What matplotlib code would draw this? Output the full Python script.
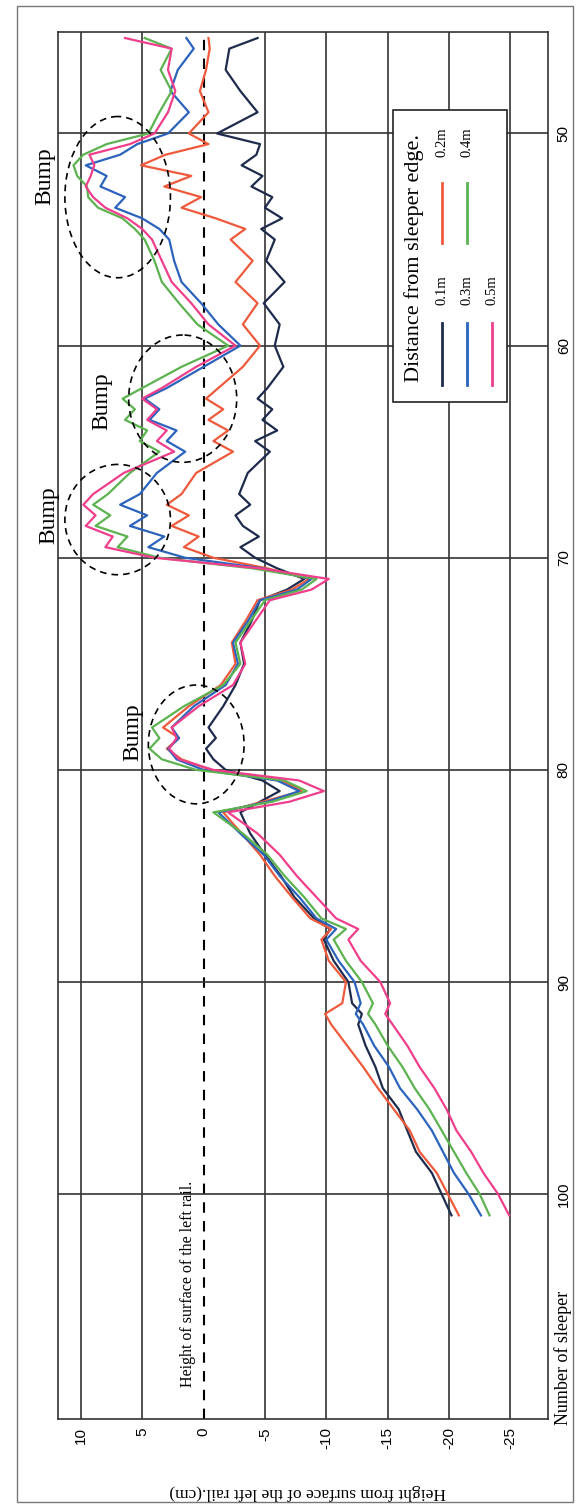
import numpy as np
import matplotlib.pyplot as plt
from matplotlib.patches import Rectangle, Ellipse

# sleeper number (original x axis, drawn top to bottom here)
sleeper = [101, 100, 99, 98, 97, 96, 95, 94, 93, 92, 91.5, 91, 90, 89, 88, 87.5, 87, 86, 85, 84,
           83, 82, 81.5, 81, 80.5, 80, 79.5, 79, 78.5, 78, 77, 76, 75, 74, 73, 72, 71.5, 71, 70.5, 70,
           69.5, 69, 68.5, 68, 67.5, 67, 66, 65, 64.5, 64, 63.5, 63, 62.5, 62, 61, 60, 59, 58, 57, 56,
           55, 54.5, 54, 53.5, 53, 52.5, 52, 51.5, 51, 50.5, 50, 49, 48, 47, 46, 45.5]

# height from surface of the left rail (cm), one list per distance from sleeper edge
h_01 = [-20.2, -19.4, -18.6, -17.3, -16.6, -15.9, -14.6, -14.0, -13.2, -12.6, -12.9, -12.1, -11.8, -10.6,
        -9.8, -10.3, -9.0, -7.4, -6.3, -5.0, -3.8, -3.0, -4.6, -6.2, -4.8, -1.8, -0.8, -0.2, -1.0, -0.4,
        -1.6, -2.6, -3.3, -3.0, -3.9, -4.6, -6.8, -8.2, -6.0, -4.2, -3.0, -4.5, -3.2, -2.6, -3.8, -2.9,
        -3.6, -5.4, -4.2, -6.0, -4.8, -5.6, -4.4, -5.2, -6.5, -5.8, -6.2, -4.9, -6.6, -5.1, -5.8, -4.7,
        -6.4, -5.0, -5.6, -3.9, -4.8, -3.1, -4.3, -4.6, -1.1, -4.4, -3.0, -1.8, -2.1, -4.4]
h_02 = [-20.8, -19.9, -19.0, -17.6, -16.8, -15.5, -14.2, -13.0, -11.7, -10.4, -9.9, -11.3, -11.6, -10.2,
        -9.6, -10.4, -8.7, -7.2, -5.8, -4.6, -3.1, -1.6, -4.8, -8.0, -6.4, -0.6, 1.8, 3.0, 2.0, 3.3,
        1.2, -1.4, -2.6, -2.3, -3.4, -4.4, -7.2, -8.6, -5.2, -0.8, 1.6, 0.4, 2.6, 1.2, 3.0, 1.8,
        0.6, -2.4, -0.8, -2.0, -0.4, -1.6, -0.2, -1.2, -3.2, -4.6, -3.2, -4.4, -2.6, -4.0, -2.2, -3.4,
        -1.0, 1.8, 0.2, 3.2, 1.0, 5.1, 3.1, -0.4, 1.2, -0.4, 0.3, -0.2, -0.5, -0.4]
h_03 = [-22.6, -21.6, -20.4, -19.5, -18.6, -17.4, -16.0, -15.1, -13.9, -13.0, -12.4, -12.8, -12.3, -11.0,
        -10.0, -10.8, -9.2, -7.8, -6.2, -4.9, -3.0, -1.2, -5.2, -7.8, -6.0, 0.0, 2.2, 2.9, 2.0, 2.6,
        0.8, -1.8, -2.8, -2.4, -3.6, -4.6, -7.6, -8.8, -4.8, 1.5, 4.5, 3.2, 6.0, 4.6, 6.8, 5.2,
        3.8, 1.5, 3.0, 2.2, 4.4, 3.6, 4.8, 3.0, 0.0, -3.0, -1.2, 0.2, 1.8, 2.4, 2.8, 3.6,
        5.0, 7.2, 6.4, 8.4, 7.9, 9.6, 6.8, 5.4, 2.9, 1.2, 2.7, 2.1, 0.8, 1.4]
h_04 = [-23.3, -22.5, -21.4, -20.4, -19.4, -18.4, -17.2, -16.2, -15.0, -14.0, -13.4, -13.8, -12.9, -11.6,
        -10.6, -11.6, -9.6, -8.2, -6.6, -5.2, -3.2, -0.8, -5.6, -8.4, -6.6, 0.6, 3.4, 4.4, 3.6, 4.2,
        1.6, -1.6, -3.0, -2.6, -3.8, -5.0, -8.0, -9.2, -4.0, 3.6, 7.0, 6.2, 8.8, 7.6, 9.0, 7.8,
        6.0, 3.6, 5.2, 4.6, 6.4, 5.6, 6.6, 5.0, 1.8, -2.0, 0.5, 2.0, 3.4, 4.0, 4.8, 5.6,
        6.6, 8.6, 9.4, 9.5, 10.3, 10.6, 9.8, 7.9, 4.5, 3.6, 2.6, 3.5, 2.6, 4.8]
h_05 = [-24.9, -24.0, -22.8, -21.8, -20.6, -19.8, -18.8, -17.6, -16.6, -15.4, -14.8, -15.2, -14.4, -12.8,
        -11.8, -12.6, -10.8, -9.2, -7.6, -6.2, -4.4, -2.0, -7.0, -9.8, -7.8, -0.8, 2.0, 2.8, 2.2, 2.6,
        0.4, -2.4, -3.4, -3.0, -4.2, -5.4, -8.8, -10.2, -4.6, 4.0, 8.0, 7.4, 9.6, 8.8, 9.8, 9.0,
        6.5, 2.4, 3.8, 3.0, 4.6, 3.8, 5.0, 3.4, 0.6, -2.6, -0.4, 1.0, 2.6, 3.4, 4.2, 5.0,
        6.2, 8.0, 9.0, 9.6, 9.2, 8.9, 9.3, 6.0, 4.0, 2.9, 2.3, 2.9, 2.6, 6.4]

series = [h_01, h_02, h_03, h_04, h_05]
names = ['0.1m', '0.2m', '0.3m', '0.4m', '0.5m']
colors = ['#1e2b4d', '#ef5a3c', '#2c63bd', '#5cb350', '#ef3f8c']

height_ticks = [10, 5, 0, -5, -10, -15, -20, -25]
sleeper_ticks = [50, 60, 70, 80, 90, 100]

# bump labels (height, sleeper) and dashed rings (height, sleeper, half width, half height)
bump_pos = [(12.9, 52.0), (8.3, 62.6), (12.6, 68.0), (5.8, 78.2)]
bump_rings = [(7.0, 53.0, 4.3, 3.8), (1.7, 62.5, 4.4, 3.0), (7.0, 68.2, 4.3, 2.6), (0.6, 78.8, 3.9, 2.8)]

serif = 'Liberation Serif'
sans = 'Liberation Sans'

fig = plt.figure(figsize=(5.81, 15.08), dpi=100)
ax = fig.add_axes([0.099, 0.059, 0.845, 0.92])

for v in height_ticks:
    if v == 0:
        ax.axvline(v, color='black', lw=1.5, ls=(0, (5, 4)), zorder=1)
    else:
        ax.axvline(v, color='#333333', lw=1.2, zorder=1)
for s in sleeper_ticks:
    ax.axhline(s, color='#333333', lw=1.2, zorder=1)

for h, c in zip(series, colors):
    ax.plot(h, sleeper, color=c, lw=1.6, zorder=3)

for (x, y, w, hh) in bump_rings:
    ax.add_patch(Ellipse((x, y), w * 2, hh * 2, fill=False, ls=(0, (4, 3)), lw=1.2, color='black', zorder=4))
for (x, y) in bump_pos:
    ax.text(x, y, 'Bump', rotation=90, fontsize=17, family=serif, ha='center', va='center', zorder=5)

ax.text(1.3, 109.1, 'Height of surface of the left rail.', rotation=90, fontsize=11.5, family=serif,
        ha='center', va='bottom', zorder=5)

ax.set_xlim(11.9, -28.1)
ax.set_ylim(110.6, 45.2)
ax.set_xticks(height_ticks)
ax.set_xticklabels([str(v) for v in height_ticks], rotation=90, family=sans, fontsize=11)
ax.set_yticks(sleeper_ticks)
ax.yaxis.tick_right()
ax.set_yticklabels([str(v) for v in sleeper_ticks], rotation=90, family=sans, fontsize=11, va='center')
ax.tick_params(length=0, pad=6)
for sp in ax.spines.values():
    sp.set_color('#333333')
    sp.set_linewidth(1.2)

fig.text(308 / 581, 1 - 1492 / 1508, 'Height from surface of the left rail.(cm)', rotation=180,
         family=serif, fontsize=12.5, ha='center', va='center')
ax.text(1.03, 110.9, 'Number of sleeper', transform=ax.get_yaxis_transform(),
        rotation=90, family=serif, fontsize=13, ha='center', va='bottom')

# legend drawn by hand because the whole chart is turned on its side
lx0, ly0, lw_, lh_ = 393 / 581, 1 - 402 / 1508, 114 / 581, 292 / 1508
fig.patches.append(Rectangle((lx0, ly0), lw_, lh_, transform=fig.transFigure, facecolor='white',
                             edgecolor='#222222', lw=1.2, zorder=10))
fig.text(414 / 581, 1 - 258 / 1508, 'Distance from sleeper edge.', rotation=90, family=serif,
         fontsize=16, ha='center', va='center', zorder=11)
rows = [442, 467, 492]
col_line = [(323, 385), (183, 243)]
col_text = 290, 142
for i, (n, c) in enumerate(zip(names, colors)):
    r, col = divmod(i, 2)
    xr = rows[r] / 581
    y1, y2 = col_line[col]
    fig.add_artist(plt.Line2D([xr, xr], [1 - y1 / 1508, 1 - y2 / 1508], color=c, lw=2, zorder=11))
    fig.text(xr, 1 - col_text[col] / 1508, n, rotation=90, family=serif, fontsize=10.5,
             ha='center', va='center', zorder=11)

fig.patches.append(Rectangle((17 / 581, 6 / 1508), 556 / 581, 1496 / 1508, transform=fig.transFigure,
                             fill=False, edgecolor='#777777', lw=1.0))

fig.savefig('out.png', dpi=100)
